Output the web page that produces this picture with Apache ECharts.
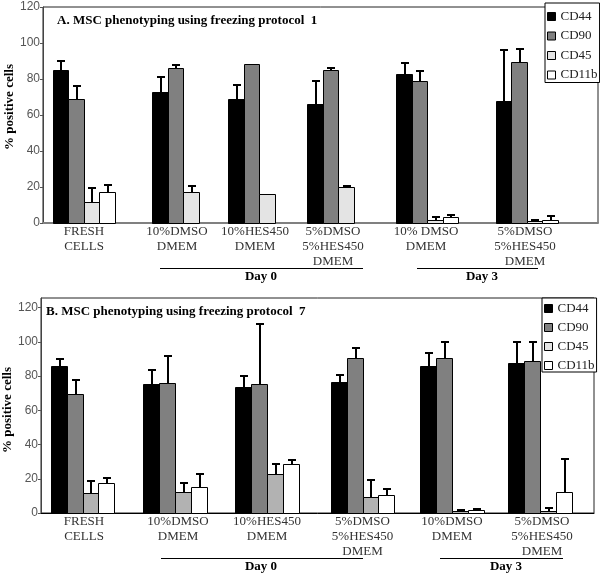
<!DOCTYPE html>
<html><head><meta charset="utf-8">
<script src="https://cdn.jsdelivr.net/npm/echarts@6/dist/echarts.min.js"></script>
<style>html,body{margin:0;padding:0;background:#fff}#c{width:600px;height:576px}</style>
</head><body><div id="c"></div>
<script>
// ---------- DATA ----------
const seriesNames = ['CD44', 'CD90', 'CD45', 'CD11b'];
const categoriesA = ['FRESH\nCELLS', '10%DMSO\nDMEM', '10%HES450\nDMEM', '5%DMSO\n5%HES450\nDMEM', '10% DMSO\nDMEM', '5%DMSO\n5%HES450\nDMEM'];
const categoriesB = ['FRESH\nCELLS', '10%DMSO\nDMEM', '10%HES450\nDMEM', '5%DMSO\n5%HES450\nDMEM', '10%DMSO\nDMEM', '5%DMSO\n5%HES450\nDMEM'];
const yTicks = [0, 20, 40, 60, 80, 100, 120];
const dayLabels = ['Day 0', 'Day 3'];

// Panel A values (% positive cells) and upper error
const cd44A = [85, 73, 68.9, 66.1, 82.8, 67.9];
const cd44ErrA = [4.8, 8, 7.6, 12.8, 6.3, 28];
const cd90A = [68.7, 86, 88.1, 85.2, 78.9, 89.6];
const cd90ErrA = [7.4, 1.8, 0, 0.8, 5.5, 7];
const cd45A = [11.5, 17.4, 15.9, 19.8, 1.7, 1.1];
const cd45ErrA = [8, 3.3, 0, 0.9, 1.5, 0.8];
const cd11bA = [17.4, null, null, null, 3.3, 1.7];
const cd11bErrA = [3.7, null, null, null, 1.3, 2.4];

// Panel B values
const cd44B = [86.1, 75.4, 73.8, 76.4, 85.9, 87.5];
const cd44ErrB = [3.9, 8.2, 6.4, 4.1, 7.8, 12.3];
const cd90B = [69.4, 75.8, 75.2, 90.7, 90.8, 88.8];
const cd90ErrB = [8.1, 16.1, 35.4, 5.9, 9, 11];
const cd45B = [11.5, 12.5, 22.8, 9.4, 1.4, 1.0];
const cd45ErrB = [7.2, 5.2, 5.8, 10.1, 0.6, 1.7];
const cd11bB = [17.7, 15.2, 28.5, 10.3, 1.9, 12.1];
const cd11bErrB = [2.9, 7.4, 2.5, 3.5, 0.6, 19.3];

// ---------- LAYOUT / STYLE ----------
const panels = [
  {
    title: 'A. MSC phenotyping using freezing protocol  1', titleLeft: 57, titleTop: 14.5,
    grid: {left: 43, top: 7, width: 555, height: 216}, xMax: 555, yMax: 120,
    groupCenters: [40.5, 140, 216.4, 295.4, 384, 483.5],
    labelCenters: [41, 134, 212, 290, 383, 482],
    barWidth: 15.5, categories: categoriesA,
    values: [[cd44A, cd44ErrA], [cd90A, cd90ErrA], [cd45A, cd45ErrA], [cd11bA, cd11bErrA]],
    colors: ['#000000', '#808080', '#e4e4e4', '#ffffff'],
    daySpans: [[117, 320, 218], [374, 495, 439]],
    axisColor: '#808080', axisWidth: 2,
    legend: {left: 545, top: 3, itemGap: 6.5, padding: [7, 2, 1, 2]}, namePad: [0, 0, 0, 16]
  },
  {
    title: 'B. MSC phenotyping using freezing protocol  7', titleLeft: 46, titleTop: 305,
    grid: {left: 41, top: 298, width: 553, height: 215}, xMax: 553, yMax: 125.7,
    groupCenters: [41.5, 134, 226, 321.5, 411, 499],
    labelCenters: [43, 137, 226, 321.5, 411, 501],
    barWidth: 15.8, categories: categoriesB,
    values: [[cd44B, cd44ErrB], [cd90B, cd90ErrB], [cd45B, cd45ErrB], [cd11bB, cd11bErrB]],
    colors: ['#000000', '#808080', '#b2b2b2', '#ffffff'],
    daySpans: [[120, 322, 220], [399, 522, 465]],
    axisColor: '#000000', axisWidth: 1,
    legend: {left: 542, top: 298, itemGap: 6, padding: [4, 2, 0, 2]}, namePad: [0, 9, 0, 0]
  }
];

const serif = '"Liberation Serif", "Times New Roman", serif';
const sans = '"Liberation Sans", Arial, sans-serif';

function barRenderer(fill, bw) {
  return function (params, api) {
    const x = api.value(0), v = api.value(1), e = api.value(2);
    if (v == null || isNaN(v)) return;
    const pL = api.coord([x - bw / 2, 0]);
    const pR = api.coord([x + bw / 2, v]);
    const x0 = Math.round(pL[0]) + 0.5, x1 = Math.round(pR[0]) + 0.5;
    const yb = Math.round(pL[1]) + 0.5, yt = Math.round(pR[1]) + 0.5;
    const children = [{
      type: 'rect', shape: {x: x0, y: yt, width: x1 - x0, height: yb - yt},
      style: {fill: fill, stroke: '#000', lineWidth: 1}
    }];
    if (e > 0) {
      const cx = Math.round((x0 + x1) / 2);
      const pt = api.coord([x, v + e]);
      const ty = Math.round(pt[1]);
      children.push(
        {type: 'line', shape: {x1: cx, y1: yt, x2: cx, y2: ty}, style: {stroke: '#000', lineWidth: 2}},
        {type: 'line', shape: {x1: cx - 4, y1: ty, x2: cx + 4, y2: ty}, style: {stroke: '#000', lineWidth: 2}}
      );
    }
    return {type: 'group', children: children};
  };
}

function dayRenderer(params, api) {
  const x1 = api.value(0), x2 = api.value(2), tx = api.value(3);
  const a = api.coord([x1, 0]), b = api.coord([x2, 0]), t = api.coord([tx, 0]);
  const ly = Math.round(a[1] + 44.5) + 0.5;
  return {type: 'group', children: [
    {type: 'line', shape: {x1: a[0], y1: ly, x2: b[0], y2: ly}, style: {stroke: '#000', lineWidth: 1}},
    {type: 'text', style: {text: dayLabels[params.dataIndex], x: t[0], y: a[1] + 53.5, align: 'center', verticalAlign: 'middle',
      font: 'bold 13px ' + serif, fill: '#000'}}
  ]};
}

const option = {
  animation: false,
  backgroundColor: '#fff',
  title: [], grid: [], xAxis: [], yAxis: [], legend: [], series: []
};

panels.forEach(function (p, pi) {
  option.title.push({text: p.title, left: p.titleLeft, top: p.titleTop, padding: 0,
    textStyle: {fontFamily: serif, fontWeight: 'bold', fontSize: 13, color: '#000'}});
  option.grid.push(Object.assign({show: true, borderColor: '#222', borderWidth: 1, backgroundColor: 'transparent',
    containLabel: false, outerBoundsMode: 'none'}, p.grid));
  option.xAxis.push({
    type: 'value', gridIndex: pi, min: 0, max: p.xMax,
    splitLine: {show: false}, axisTick: {show: false},
    axisLine: {show: true, onZero: false, lineStyle: {color: p.axisColor, width: p.axisWidth}},
    axisLabel: {
      customValues: p.labelCenters, margin: 1, interval: 0,
      fontFamily: serif, fontSize: 13, lineHeight: 15, color: '#333',
      formatter: function (v) {
        const i = p.labelCenters.findIndex(function (c) { return Math.abs(c - v) < 0.01; });
        return i >= 0 ? p.categories[i] : '';
      }
    }
  });
  option.yAxis.push({
    type: 'value', gridIndex: pi, min: 0, max: p.yMax, interval: 20,
    splitLine: {show: false},
    axisLine: {show: true, lineStyle: {color: '#444', width: 1}},
    axisTick: {show: true, length: 3, lineStyle: {color: '#555'}, customValues: yTicks},
    axisLabel: {customValues: yTicks, margin: 3, fontFamily: sans, fontSize: 12, color: '#555',
      formatter: function (v) { return yTicks.indexOf(v) >= 0 ? String(v) : ''; }},
    name: '% positive cells', nameLocation: 'middle', nameGap: 26.5, nameRotate: 90, nameMoveOverlap: false,
    nameTextStyle: {fontFamily: serif, fontWeight: 'bold', fontSize: 13, color: '#000', padding: p.namePad}
  });
  option.legend.push({
    orient: 'vertical', left: p.legend.left, top: p.legend.top, data: seriesNames,
    icon: 'rect', itemWidth: 8, itemHeight: 8, itemGap: p.legend.itemGap,
    padding: p.legend.padding,
    borderColor: '#000', borderWidth: 1, backgroundColor: '#fff', selectedMode: false,
    itemStyle: {borderColor: '#000', borderWidth: 1},
    textStyle: {fontFamily: serif, fontSize: 13, color: '#222'}, z: 10
  });
  p.values.forEach(function (pair, si) {
    const vals = pair[0], errs = pair[1];
    const data = [];
    vals.forEach(function (v, gi) {
      if (v === null) return;
      data.push([p.groupCenters[gi] + (si - 1.5) * p.barWidth, v, errs[gi] || 0]);
    });
    option.series.push({
      type: 'custom', name: seriesNames[si], xAxisIndex: pi, yAxisIndex: pi,
      itemStyle: {color: p.colors[si], borderColor: '#000', borderWidth: 1},
      renderItem: barRenderer(p.colors[si], p.barWidth), data: data, clip: false, z: 3
    });
  });
  option.series.push({
    type: 'custom', name: 'days' + pi, xAxisIndex: pi, yAxisIndex: pi, clip: false, silent: true,
    renderItem: dayRenderer,
    data: p.daySpans.map(function (d) { return [d[0], 0, d[1], d[2]]; })
  });
});

const chart = echarts.init(document.getElementById('c'), null, {renderer: 'canvas'});
chart.setOption(option);
</script>
</body></html>
